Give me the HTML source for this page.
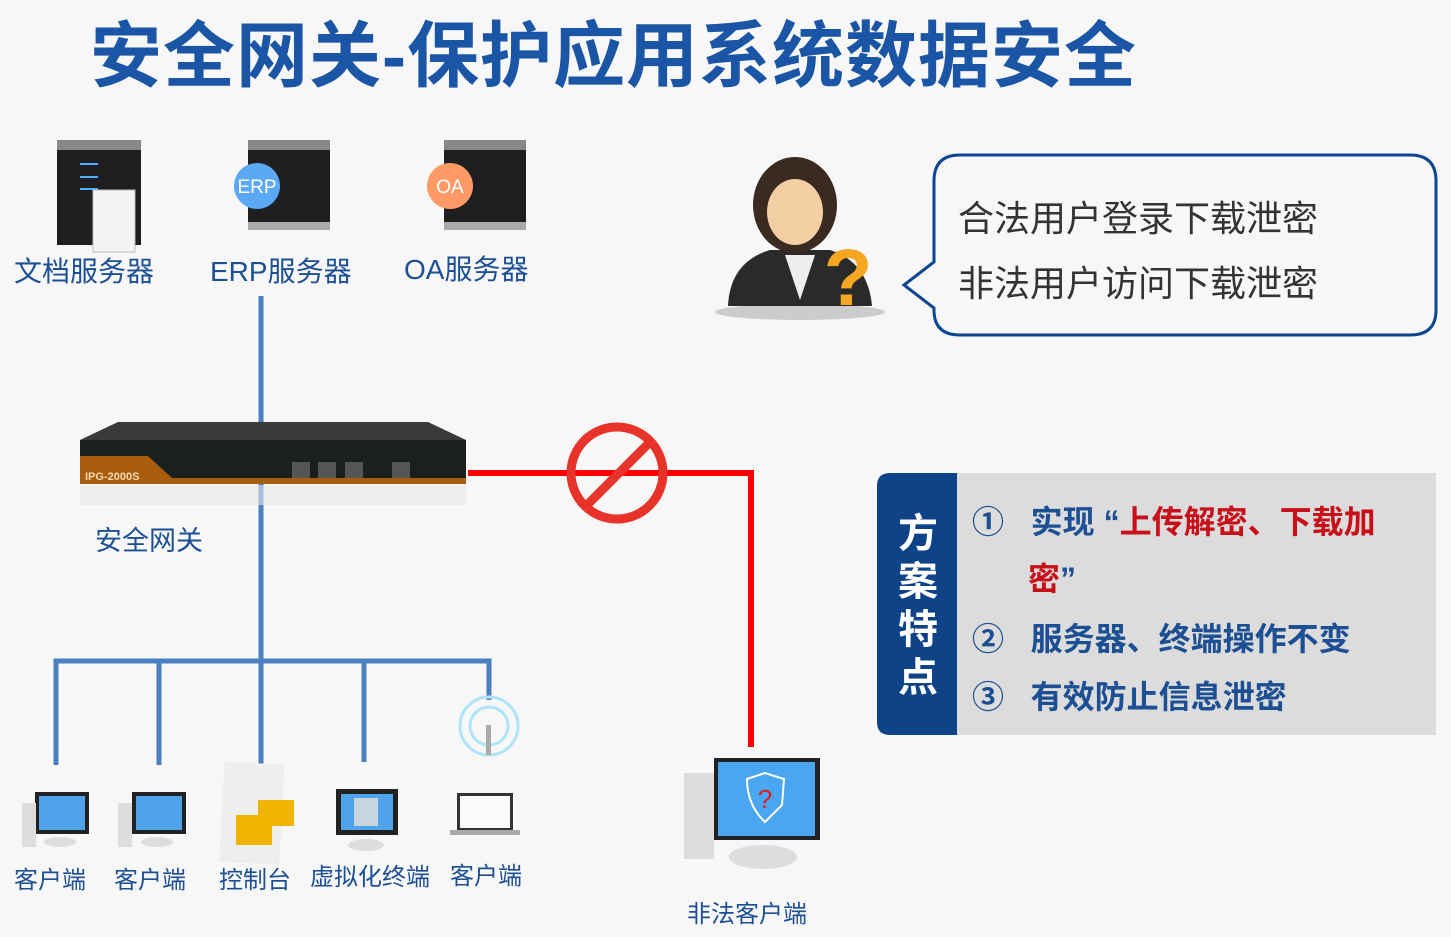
<!DOCTYPE html>
<html><head><meta charset="utf-8"><style>
body{margin:0;width:1451px;height:937px;background:#f7f7f7;position:relative;overflow:hidden;font-family:"Liberation Sans","Noto Sans CJK SC",sans-serif}
.t{position:absolute;white-space:nowrap;color:#1c4f93}
</style></head><body>
<div class="t" style="left:90px;top:-3px;font-size:72px;font-weight:bold;color:#1b55a5;letter-spacing:1px">安全网关-保护应用系统数据安全</div>

<svg width="1451" height="937" style="position:absolute;left:0;top:0">
<g stroke="#4a7fc0" stroke-width="5" fill="none">
<line x1="261" y1="296" x2="261" y2="765"/>
<polyline points="56,765 56,661 489,661 489,700"/>
<line x1="159" y1="661" x2="159" y2="765"/>
<line x1="364" y1="661" x2="364" y2="762"/>
</g>
<polyline points="468,473 751,473 751,747" stroke="#f00" stroke-width="6" fill="none"/>
<circle cx="617" cy="473" r="46" fill="none" stroke="#e8332a" stroke-width="9"/>
<line x1="586" y1="506" x2="650" y2="442" stroke="#e8332a" stroke-width="9"/>

<g>
<rect x="57" y="145" width="84" height="100" fill="#1f1f22"/>
<rect x="57" y="140" width="84" height="10" fill="#888"/>
<g fill="#4ab0ff"><rect x="80" y="163" width="18" height="2"/><rect x="80" y="176" width="18" height="2"/><rect x="80" y="188" width="18" height="2"/></g>
<rect x="93" y="190" width="42" height="62" fill="#f4f4f4" stroke="#bbb"/>
<rect x="248" y="145" width="82" height="80" fill="#1f1f22"/>
<rect x="248" y="140" width="82" height="10" fill="#888"/>
<rect x="248" y="222" width="82" height="8" fill="#aaa"/>
<circle cx="257" cy="186" r="23" fill="#5ba8f5"/>
<rect x="444" y="145" width="82" height="80" fill="#1f1f22"/>
<rect x="444" y="140" width="82" height="10" fill="#888"/>
<rect x="444" y="222" width="82" height="8" fill="#aaa"/>
<circle cx="450" cy="186" r="23" fill="#fd9a66"/>
</g>
<text x="257" y="193" font-size="19" fill="#fff" text-anchor="middle" font-family="Liberation Sans">ERP</text>
<text x="450" y="193" font-size="19" fill="#fff" text-anchor="middle" font-family="Liberation Sans">OA</text>

<polygon points="80,440 118,422 428,422 466,440" fill="#3a3a3a"/>
<rect x="80" y="440" width="386" height="20" fill="#1a1f1f"/>
<rect x="80" y="460" width="386" height="24" fill="#1a1f1f"/>
<polygon points="80,456 148,456 172,478 466,478 466,484 80,484" fill="#a85c0e"/>
<text x="85" y="480" font-size="11" fill="#f5d8b0" font-family="Liberation Sans" font-weight="bold">IPG-2000S</text>
<g fill="#555"><rect x="292" y="462" width="18" height="16"/><rect x="318" y="462" width="18" height="16"/><rect x="345" y="462" width="18" height="16"/><rect x="392" y="462" width="18" height="16"/></g>
<rect x="80" y="485" width="386" height="20" fill="#e8e8e8" opacity=".6"/>

<ellipse cx="800" cy="312" rx="85" ry="8" fill="#ccc"/>
<path d="M728,306 Q730,262 770,250 L830,250 Q868,262 872,306 Z" fill="#2a2a2a"/>
<polygon points="785,255 800,300 815,255" fill="#eee"/>
<ellipse cx="795" cy="205" rx="42" ry="48" fill="#3a2a22"/>
<ellipse cx="795" cy="212" rx="28" ry="33" fill="#f4cfa4"/>
<text x="848" y="305" font-size="80" font-weight="bold" fill="#f5a623" text-anchor="middle" font-family="Liberation Sans">?</text>

<path d="M960,155 L1410,155 Q1436,155 1436,181 L1436,310 Q1436,335 1410,335 L960,335 Q934,335 934,310 L934,308 L904,285 L934,262 L934,181 Q934,155 960,155 Z" fill="#f7f7f7" stroke="#0d4690" stroke-width="3"/>

<rect x="957" y="473" width="479" height="262" fill="#dcdcdc"/>
<path d="M890,473 L957,473 L957,735 L890,735 Q877,735 877,722 L877,486 Q877,473 890,473 Z" fill="#0e4388"/>

<g>
<rect x="35" y="792" width="54" height="42" fill="#222"/><rect x="39" y="796" width="46" height="34" fill="#4fa3ea"/>
<rect x="22" y="803" width="14" height="44" fill="#ddd"/><ellipse cx="60" cy="842" rx="16" ry="5" fill="#ddd"/>
<rect x="132" y="792" width="54" height="42" fill="#222"/><rect x="136" y="796" width="46" height="34" fill="#4fa3ea"/>
<rect x="118" y="803" width="14" height="44" fill="#ddd"/><ellipse cx="157" cy="842" rx="16" ry="5" fill="#ddd"/>
<rect x="222" y="763" width="60" height="100" fill="#eee" transform="rotate(3 250 810)"/>
<rect x="258" y="800" width="36" height="26" fill="#f0b400"/><rect x="236" y="815" width="36" height="30" fill="#f0b400"/>
<rect x="336" y="789" width="62" height="46" fill="#222"/><rect x="341" y="794" width="52" height="36" fill="#4fa3ea"/>
<rect x="354" y="798" width="24" height="28" fill="#c8d4de"/><ellipse cx="366" cy="845" rx="18" ry="6" fill="#ddd"/>
<rect x="457" y="793" width="56" height="38" fill="#333"/><rect x="460" y="796" width="50" height="32" fill="#fafafa"/>
<rect x="450" y="830" width="70" height="5" fill="#aaa"/>
<circle cx="489" cy="726" r="29" fill="none" stroke="#aee4f7" stroke-width="3"/>
<circle cx="489" cy="726" r="19" fill="none" stroke="#aee4f7" stroke-width="3"/>
<rect x="486" y="725" width="5" height="30" fill="#aaa"/>
<rect x="714" y="758" width="106" height="82" fill="#222"/><rect x="718" y="762" width="97" height="74" fill="#4aa6f0"/>
<rect x="684" y="773" width="30" height="86" fill="#ddd"/>
<ellipse cx="763" cy="857" rx="34" ry="12" fill="#ddd"/>
<path d="M747,779 L765,773 L784,779 L782,805 Q765,822 765,822 Q747,805 747,779 Z" fill="none" stroke="#fff" stroke-width="2"/>
</g>
<text x="765" y="808" font-size="26" fill="#e02020" text-anchor="middle" font-family="Liberation Sans">?</text>
</svg>

<div class="t" style="left:14px;top:250px;font-size:28px">文档服务器</div>
<div class="t" style="left:210px;top:250px;font-size:28px">ERP服务器</div>
<div class="t" style="left:404px;top:248px;font-size:28px">OA服务器</div>
<div class="t" style="left:95px;top:519px;font-size:27px">安全网关</div>

<div class="t" style="left:958px;top:190px;font-size:36px;color:#333">合法用户登录下载泄密</div>
<div class="t" style="left:958px;top:255px;font-size:36px;color:#333">非法用户访问下载泄密</div>

<div class="t" style="left:898px;top:510px;font-size:40px;line-height:48px;color:#fff;font-weight:bold;white-space:normal;width:44px">方案特点</div>
<div class="t" style="left:972px;top:497px;font-size:32px;font-weight:bold">①&nbsp;&nbsp; 实现 “<span style="color:#c8101a">上传解密、下载加</span></div>
<div class="t" style="left:1028px;top:554px;font-size:32px;font-weight:bold"><span style="color:#c8101a">密</span>”</div>
<div class="t" style="left:972px;top:614px;font-size:32px;font-weight:bold">②&nbsp;&nbsp; 服务器、终端操作不变</div>
<div class="t" style="left:972px;top:672px;font-size:32px;font-weight:bold">③&nbsp;&nbsp; 有效防止信息泄密</div>

<div class="t" style="left:14px;top:860px;font-size:24px">客户端</div>
<div class="t" style="left:114px;top:860px;font-size:24px">客户端</div>
<div class="t" style="left:219px;top:860px;font-size:24px">控制台</div>
<div class="t" style="left:310px;top:857px;font-size:24px">虚拟化终端</div>
<div class="t" style="left:450px;top:856px;font-size:24px">客户端</div>
<div class="t" style="left:687px;top:894px;font-size:24px">非法客户端</div>
</body></html>
